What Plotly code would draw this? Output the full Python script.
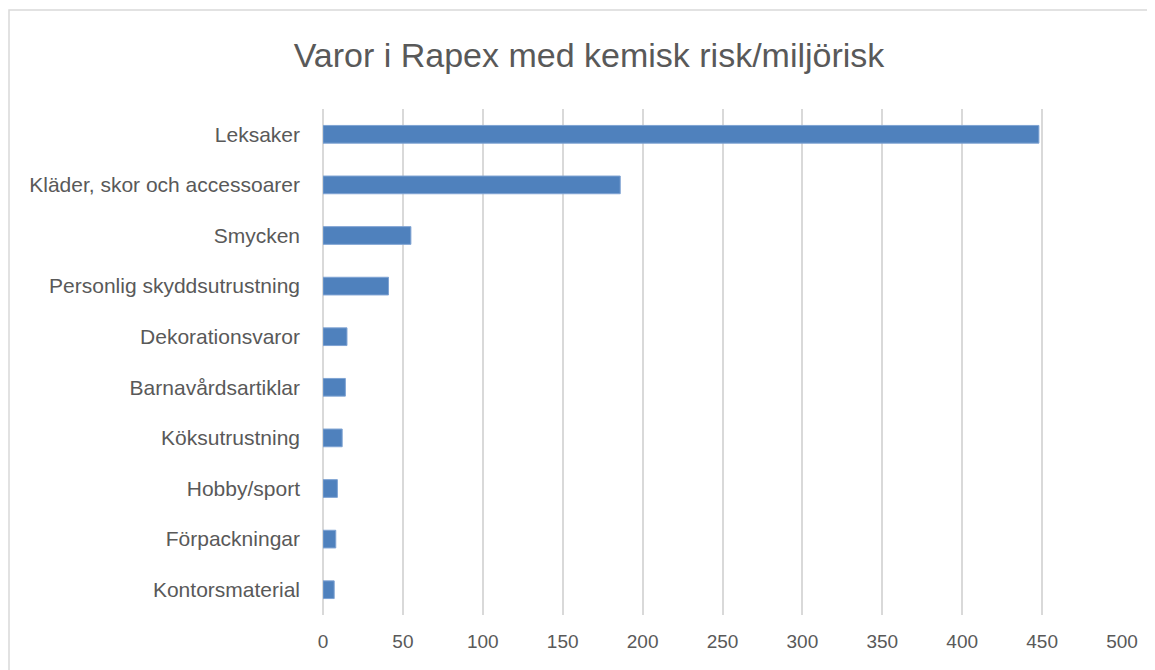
import plotly.graph_objects as go

# category labels, top to bottom as drawn
categories = [
    "Leksaker",
    "Kläder, skor och accessoarer",
    "Smycken",
    "Personlig skyddsutrustning",
    "Dekorationsvaror",
    "Barnavårdsartiklar",
    "Köksutrustning",
    "Hobby/sport",
    "Förpackningar",
    "Kontorsmaterial",
]
counts = [448, 186, 55, 41, 15, 14, 12, 9, 8, 7]
x_ticks = [0, 50, 100, 150, 200, 250, 300, 350, 400, 450, 500]

FONT = "Liberation Sans, Arial, sans-serif"
TEXT = "#595959"
GRID = "#d9d9d9"

# page body has an 8px margin, so the figure is a bit smaller than the window
W, H = 1147, 662
L, R, T, B = 315, 33, 101, 55
pw, ph = W - L - R, H - T - B

fig = go.Figure()
fig.add_trace(go.Bar(
    x=counts, y=categories, orientation="h",
    width=0.35,
    marker=dict(color="#4f81bd", line=dict(color="#7fa3d3", width=1)),
))

fig.update_layout(
    width=W, height=H,
    margin=dict(l=L, r=R, t=T, b=B),
    paper_bgcolor="white", plot_bgcolor="white",
    showlegend=False,
    font=dict(family=FONT, color=TEXT),
    title=dict(
        text="Varor i Rapex med kemisk risk/miljörisk",
        font=dict(family=FONT, size=34, color=TEXT),
        x=581 / W, xanchor="center", xref="container",
        y=1 - 47 / H, yanchor="middle", yref="container",
    ),
)

fig.update_xaxes(
    range=[0, 500], tickvals=x_ticks,
    showgrid=True, gridcolor=GRID, gridwidth=1.5,
    zeroline=True, zerolinecolor=GRID, zerolinewidth=1.5,
    showline=False, ticks="",
    tickfont=dict(size=19, color=TEXT),
    ticklabelstandoff=13,
)
fig.update_yaxes(
    categoryorder="array", categoryarray=categories[::-1],
    showgrid=False, showline=False, ticks="",
    tickfont=dict(size=21, color=TEXT),
    ticklabelstandoff=22,
)

# light outer border (left and top edges only are visible in the crop)
fig.add_shape(
    type="path", xref="paper", yref="paper",
    path="M {x0},{y0} L {x0},{y1} L {x1},{y1}".format(
        x0=(1 - L) / pw, y0=-(B + 20) / ph,
        y1=1 + (T - 2) / ph, x1=(W + 40 - L) / pw,
    ),
    line=dict(color=GRID, width=1.5),
    layer="below",
)

fig.write_html("out.html")
